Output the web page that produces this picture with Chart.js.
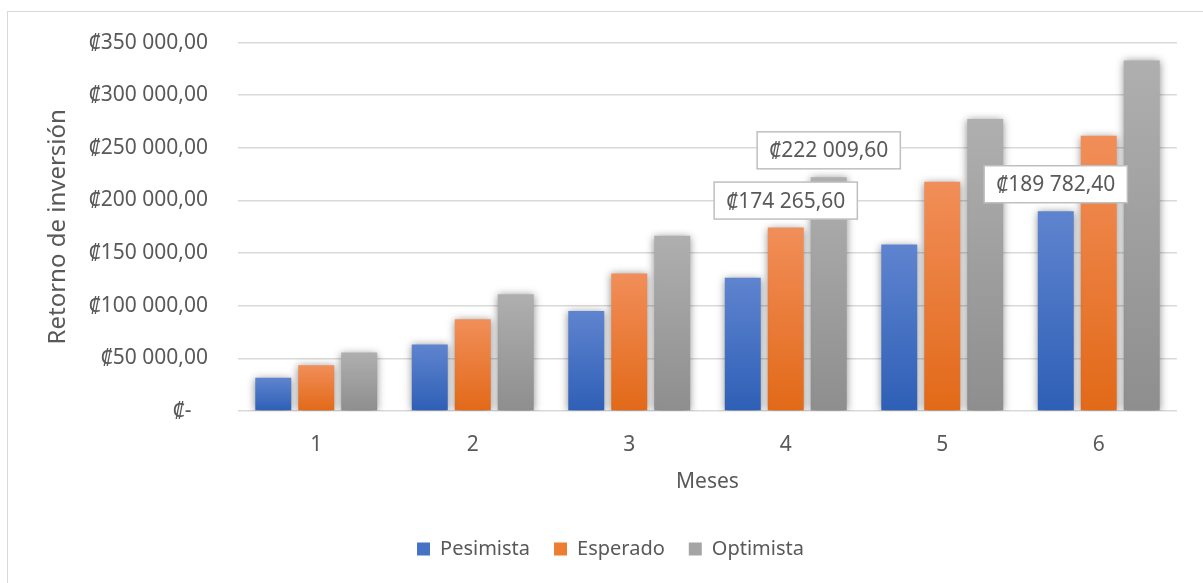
<!DOCTYPE html>
<html lang="es">
<head>
<meta charset="utf-8">
<title>Retorno de inversión</title>
<script src="https://cdn.jsdelivr.net/npm/chart.js@4/dist/chart.umd.min.js"></script>
<style>
  html, body { margin: 0; padding: 0; background: #fff; }
  body { width: 1203px; height: 583px; position: relative; overflow: hidden; }
  .frame { position: absolute; left: 7px; top: 11px; width: 1400px; height: 800px; border: 1px solid #d9d9d9; box-sizing: border-box; }
  #wrap { position: absolute; left: 0; top: 0; width: 1203px; height: 583px; }
</style>
</head>
<body>
<div class="frame"></div>
<div id="wrap"><canvas id="retornoChart"></canvas></div>
<script>
const meses = ['1', '2', '3', '4', '5', '6'];
const pesimista = [31630.40, 63260.80, 94891.20, 126521.60, 158152.00, 189782.40];
const esperado = [43566.40, 87132.80, 130699.20, 174265.60, 217832.00, 261398.40];
const optimista = [55502.40, 111004.80, 166507.20, 222009.60, 277512.00, 333014.40];
const yTicks = [0, 50000, 100000, 150000, 200000, 250000, 300000, 350000];
// [dataset, month index] of the values shown with a label box
const etiquetas = [[2, 3], [1, 3], [0, 5]];

const textColor = '#595959';
const fontFamily = "'Noto Sans', 'DejaVu Sans', sans-serif";

function colones(v) {
    const parts = v.toFixed(2).split('.');
    const entero = parts[0].replace(/\B(?=(\d{3})+(?!\d))/g, ' ');
    return '₡' + entero + ',' + parts[1];
}

// vertical gradient per bar, light at the top, darker at the base
function barGradient(top, bottom) {
    return (ctx) => {
        const chart = ctx.chart;
        const y = chart.scales.y;
        if (!y || ctx.parsed === undefined || ctx.type !== 'data') return bottom;
        const yTop = y.getPixelForValue(ctx.parsed.y);
        const yBase = y.getPixelForValue(0);
        if (!isFinite(yTop) || !isFinite(yBase) || yTop === yBase) return bottom;
        const g = chart.ctx.createLinearGradient(0, yTop, 0, yBase);
        g.addColorStop(0, top);
        g.addColorStop(1, bottom);
        return g;
    };
}

const barShadow = {
    id: 'barShadow',
    beforeDatasetsDraw(chart) {
        const c = chart.ctx;
        c.save();
        c.shadowColor = 'rgba(0, 0, 0, 0.45)';
        c.shadowBlur = 8;
        c.shadowOffsetX = 0;
        c.shadowOffsetY = 1;
    },
    afterDatasetsDraw(chart) {
        chart.ctx.restore();
    }
};

// legend sits centred on the outer frame rather than on the canvas
const legendShift = {
    id: 'legendShift',
    afterLayout(chart) {
        if (chart.legend) {
            chart.legend.left += 22;
            chart.legend.right += 22;
        }
    }
};

const labelBoxes = {
    id: 'labelBoxes',
    afterDatasetsDraw(chart) {
        const c = chart.ctx;
        c.save();
        c.font = '21px ' + fontFamily;
        c.textAlign = 'center';
        c.textBaseline = 'middle';
        etiquetas.forEach(([ds, i]) => {
            const bar = chart.getDatasetMeta(ds).data[i];
            const text = colones(chart.data.datasets[ds].data[i]);
            const w = c.measureText(text).width + 24;
            const h = 37;
            const cx = bar.x;
            const cy = bar.y - 27;
            c.fillStyle = '#ffffff';
            c.fillRect(cx - w / 2, cy - h / 2, w, h);
            c.strokeStyle = '#bfbfbf';
            c.lineWidth = 1.5;
            c.strokeRect(cx - w / 2, cy - h / 2, w, h);
            c.fillStyle = textColor;
            c.fillText(text, cx, cy + 1);
        });
        c.restore();
    }
};

const ctx = document.getElementById('retornoChart');
new Chart(ctx, {
    type: 'bar',
    data: {
        labels: meses,
        datasets: [
            { label: 'Pesimista', data: pesimista, backgroundColor: barGradient('#5f84cf', '#2e5fb6') },
            { label: 'Esperado', data: esperado, backgroundColor: barGradient('#f18e59', '#e26918') },
            { label: 'Optimista', data: optimista, backgroundColor: barGradient('#afafaf', '#8e8e8e') }
        ]
    },
    options: {
        responsive: true,
        maintainAspectRatio: false,
        animation: false,
        datasets: {
            bar: { categoryPercentage: 0.824, barPercentage: 0.837 }
        },
        layout: { padding: { top: 39, right: 26, left: 0, bottom: 14 } },
        plugins: {
            legend: {
                position: 'bottom',
                labels: {
                    color: textColor,
                    font: { family: fontFamily, size: 20 },
                    boxWidth: 13,
                    boxHeight: 13,
                    padding: 24,
                    generateLabels(chart) {
                        const solid = ['#4472c4', '#ed7d31', '#a5a5a5'];
                        return chart.data.datasets.map((d, i) => ({
                            text: d.label,
                            fillStyle: solid[i],
                            strokeStyle: solid[i],
                            lineWidth: 0,
                            fontColor: textColor,
                            datasetIndex: i,
                            hidden: false
                        }));
                    }
                }
            },
            tooltip: { enabled: false }
        },
        scales: {
            x: {
                grid: { display: false },
                border: { display: false },
                ticks: { color: textColor, font: { family: fontFamily, size: 21 }, padding: 13 },
                title: {
                    display: true,
                    text: 'Meses',
                    color: textColor,
                    font: { family: fontFamily, size: 21 },
                    padding: { top: 0, bottom: 20 }
                },
                afterFit(scale) { scale.height = 104; }
            },
            y: {
                min: 0,
                max: 350000,
                afterBuildTicks(scale) { scale.ticks = yTicks.map(v => ({ value: v })); },
                grid: { color: '#d9d9d9', lineWidth: 1.5, drawTicks: false },
                border: { display: false },
                ticks: {
                    color: textColor,
                    font: { family: fontFamily, size: 21 },
                    padding: 30,
                    callback: (v) => v === 0 ? '₡-   ' : colones(v)
                },
                title: {
                    display: true,
                    text: 'Retorno de inversión',
                    color: textColor,
                    font: { family: fontFamily, size: 24 },
                    padding: { top: 44, bottom: 0 }
                },
                afterFit(scale) { scale.width = 238; }
            }
        }
    },
    plugins: [barShadow, legendShift, labelBoxes]
});
</script>
</body>
</html>
